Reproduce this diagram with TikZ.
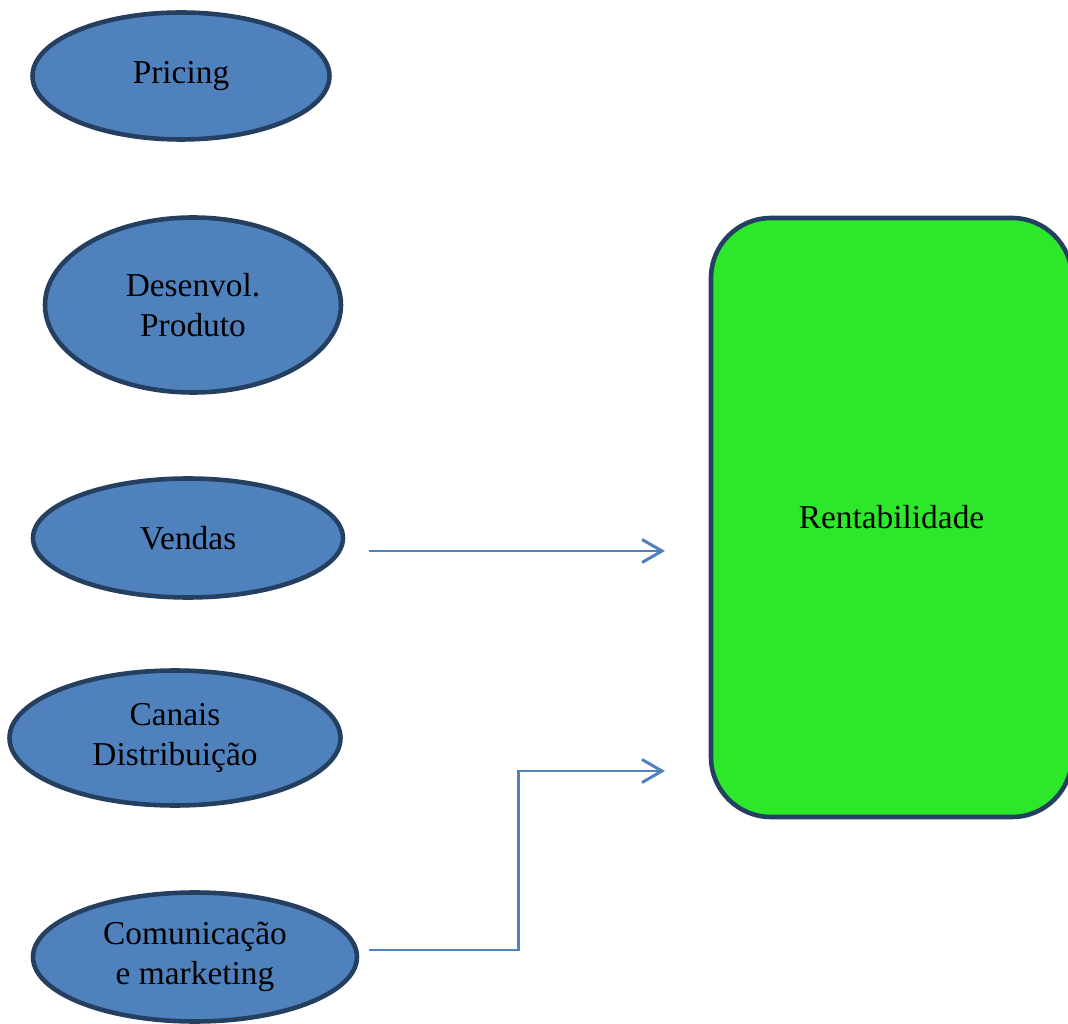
\documentclass[tikz,border=0pt]{standalone}
\usepackage{fontspec}
\setmainfont{Liberation Serif}
\usetikzlibrary{shapes.geometric, arrows.meta}

\definecolor{areablue}{RGB}{79,129,189}
\definecolor{areaedge}{RGB}{36,63,96}
\definecolor{profitgreen}{RGB}{45,232,42}

\tikzset{
  area/.style={draw=areaedge, fill=areablue, ellipse, line width=2.6pt,
    inner sep=0pt, align=center, font=\fontsize{19}{22.5}\selectfont},
  link/.style={draw=areablue, line width=1.7pt,
    -{Straight Barb[length=0.4cm, width=0.46cm]}}
}

\begin{document}
\begin{tikzpicture}
    \useasboundingbox (0, 0) rectangle (21.36, 20.46);

    \node[area, minimum width=5.94cm, minimum height=2.54cm] (pricing) at (3.62, 18.94) {Pricing};
    \node[area, minimum width=5.92cm, minimum height=3.50cm] (desenv) at (3.86, 14.36) {Desenvol.\\Produto};
    \node[area, minimum width=6.20cm, minimum height=2.38cm] (vendas) at (3.76, 9.70) {Vendas};
    \node[area, minimum width=6.62cm, minimum height=2.70cm] (canais) at (3.50, 5.70) {Canais\\Distribuição};
    \node[area, minimum width=6.48cm, minimum height=2.58cm] (comunic) at (3.90, 1.32) {Comunicação\\e marketing};

    \node[draw=areaedge, fill=profitgreen, rounded corners=1.2cm, line width=2.6pt,
      minimum width=7.22cm, minimum height=11.98cm, font=\fontsize{19}{22.5}\selectfont]
      (rent) at (17.83, 10.11) {Rentabilidade};

    % Arrows
    \coordinate (vendasOut) at (7.38, 9.44);
    \coordinate (comunicOut) at (7.38, 1.46);
    \coordinate (rentInA) at (13.30, 9.44);
    \coordinate (rentInB) at (13.30, 5.04);

    \draw[link] (vendasOut) -- (rentInA);
    \draw[link] (comunicOut) -- (10.36, 1.46) |- (rentInB);

  \end{tikzpicture}
\end{document}
